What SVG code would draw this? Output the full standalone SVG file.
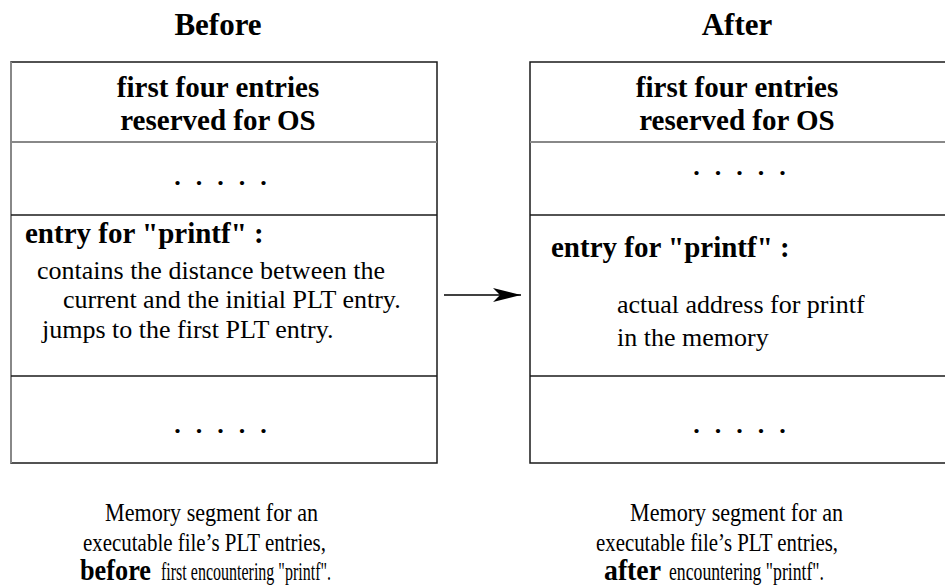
<svg xmlns="http://www.w3.org/2000/svg" width="945" height="587" viewBox="0 0 945 587" font-family="'Liberation Serif', 'DejaVu Serif', serif">
  <defs>
    <style>
      text { font-family: "Liberation Serif", "DejaVu Serif", serif; fill: #000; }
      .title { font-size: 31px; font-weight: bold; text-anchor: middle; }
      .head { font-size: 29px; font-weight: bold; text-anchor: middle; }
      .label { font-size: 29px; font-weight: bold; }
      .body { font-size: 26px; }
      .dots { font-size: 26px; font-weight: bold; text-anchor: middle; letter-spacing: 15px; }
      .cap { font-size: 25px; }
      .capsm { font-size: 26px; }
      .capb { font-size: 29px; font-weight: bold; }
      .frame { fill: #fff; stroke: #1a1a1a; stroke-width: 1.5; }
      .rule { stroke: #1a1a1a; stroke-width: 1.5; }
      .rule-soft { stroke: #888; stroke-width: 2; }
      .edge-soft { stroke: #888; stroke-width: 2; }
      .conn { stroke: #000; stroke-width: 1.5; fill: none; }
    </style>
    <marker id="head" markerWidth="30" markerHeight="14" refX="28" refY="7" orient="auto" markerUnits="userSpaceOnUse">
      <path d="M0,0 L28,7 L0,14 L7,7 Z" fill="#000"/>
    </marker>
  </defs>

  <rect width="945" height="587" fill="#fff"/>

  <!-- left table: PLT before the first call -->
  <g id="before">
    <text class="title" x="218" y="35">Before</text>
    <rect class="frame" x="11" y="62" width="426" height="401"/>
    <line class="edge-soft" x1="11" y1="62" x2="11" y2="463"/>
    <line class="rule-soft" x1="11" y1="142" x2="437" y2="142"/>
    <line class="rule" x1="11" y1="215" x2="437" y2="215"/>
    <line class="rule" x1="11" y1="376" x2="437" y2="376"/>
    <text class="head" x="218" y="97">first four entries</text>
    <text class="head" x="218" y="130">reserved for OS</text>
    <text class="dots" x="228" y="185">.....</text>
    <text class="label" x="25" y="243">entry for "printf" :</text>
    <text class="body" x="37" y="279">contains the distance between the</text>
    <text class="body" x="63" y="308">current and the initial PLT entry.</text>
    <text class="body" x="42" y="338">jumps to the first PLT entry.</text>
    <text class="dots" x="228" y="433">.....</text>
  </g>

  <g id="before-caption">
    <text class="cap" x="105" y="521" textLength="213" lengthAdjust="spacingAndGlyphs">Memory segment for an</text>
    <text class="cap" x="83" y="551" textLength="243" lengthAdjust="spacingAndGlyphs">executable file’s PLT entries,</text>
    <text class="capb" x="80" y="580" textLength="71" lengthAdjust="spacingAndGlyphs">before</text>
    <text class="capsm" x="161" y="580" textLength="170" lengthAdjust="spacingAndGlyphs">first encountering "printf".</text>
  </g>

  <!-- right table: PLT after resolution -->
  <g id="after">
    <text class="title" x="737" y="35">After</text>
    <rect class="frame" x="530" y="62" width="420" height="401"/>
    <line class="rule-soft" x1="530" y1="142" x2="945" y2="142"/>
    <line class="rule" x1="530" y1="215" x2="945" y2="215"/>
    <line class="rule" x1="530" y1="376" x2="945" y2="376"/>
    <text class="head" x="737" y="97">first four entries</text>
    <text class="head" x="737" y="130">reserved for OS</text>
    <text class="dots" x="747" y="175">.....</text>
    <text class="label" x="551" y="257">entry for "printf" :</text>
    <text class="body" x="617" y="313">actual address for printf</text>
    <text class="body" x="617" y="346">in the memory</text>
    <text class="dots" x="747" y="433">.....</text>
  </g>

  <g id="after-caption">
    <text class="cap" x="630" y="521" textLength="213" lengthAdjust="spacingAndGlyphs">Memory segment for an</text>
    <text class="cap" x="596" y="551" textLength="242" lengthAdjust="spacingAndGlyphs">executable file’s PLT entries,</text>
    <text class="capb" x="604" y="580" textLength="57" lengthAdjust="spacingAndGlyphs">after</text>
    <text class="capsm" x="669" y="580" textLength="155" lengthAdjust="spacingAndGlyphs">encountering "printf".</text>
  </g>

  <g id="connectors">
    <line class="conn" x1="444" y1="295" x2="521" y2="295" marker-end="url(#head)"/>
  </g>
</svg>
